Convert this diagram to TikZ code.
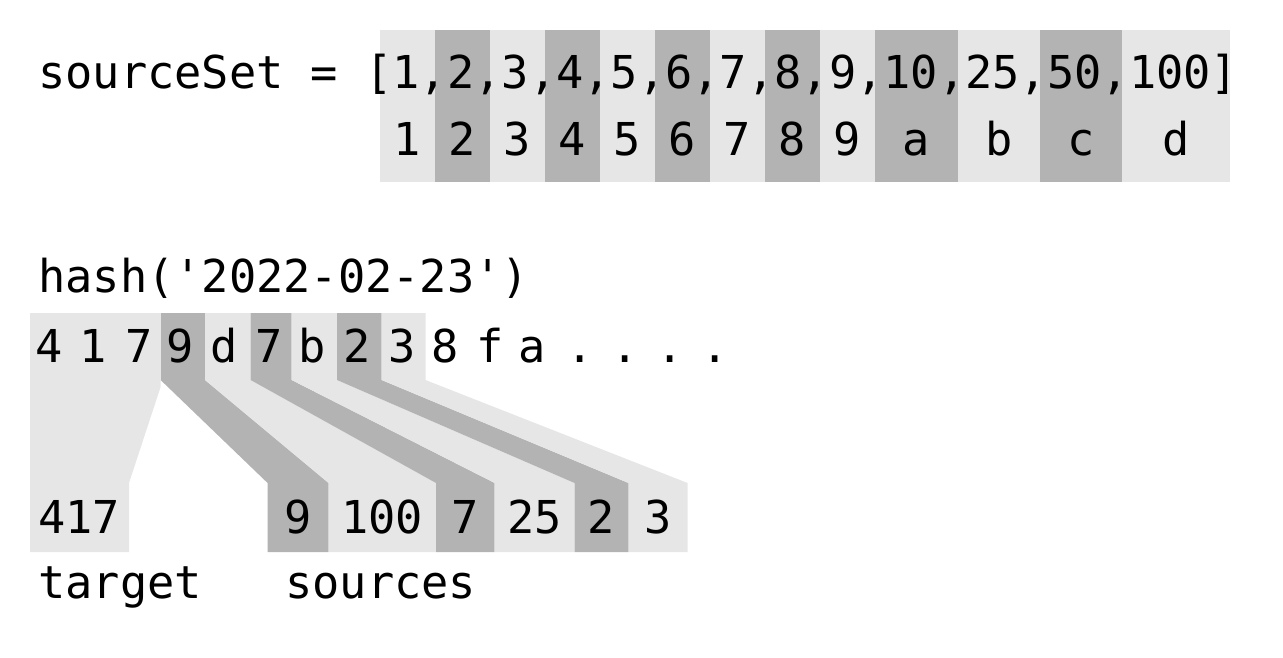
\documentclass[tikz,border=0pt]{standalone}
\usepackage{fontspec}
\setmonofont{DejaVu Sans Mono}
\definecolor{lg}{HTML}{E6E6E6}
\definecolor{dg}{HTML}{B3B3B3}
\begin{document}
\begin{tikzpicture}[x=1pt,y=-1pt,
  txt/.style={font=\ttfamily\fontsize{45.3}{50}\selectfont,inner sep=0pt,anchor=base west},
  ctr/.style={font=\ttfamily\fontsize{45.3}{50}\selectfont,inner sep=0pt,anchor=base}]
\useasboundingbox (0,0) rectangle (1283,657);
% top cells
\foreach \a/\b/\c/\l [count=\i] in {380/435/lg/1,435/490/dg/2,490/545/lg/3,545/600/dg/4,600/655/lg/5,655/710/dg/6,710/765/lg/7,765/820/dg/8,820/875/lg/9,875/958/dg/a,958/1040/lg/b,1040/1122/dg/c,1122/1230/lg/d}{
  \fill[\c] (\a,30) rectangle (\b,182);
  \node[ctr] (k\i) at ({(\a+\b)/2},155) {\l};
}
\node[txt] (src) at (38,88) {sourceSet = [1,2,3,4,5,6,7,8,9,10,25,50,100]};
% hash bands
\fill[lg] (30,313) -- (160.6,313) -- (160.6,387) -- (129,483) -- (129,552) -- (30,552) -- cycle;
\foreach \a/\b/\c/\d/\col in {160.6/205/267.6/328.6/dg,205/250.6/328.6/436/lg,250.6/291.6/436/494.7/dg,291.6/337/494.7/574.5/lg,337/381.6/574.5/628.5/dg,381.6/425.5/628.5/687.6/lg}{
  \fill[\col] (\a,313) -- (\b,313) -- (\b,380) -- (\d,483) -- (\d,552) -- (\c,552) -- (\c,483) -- (\a,380) -- cycle;
}
\fill[lg] (30,313) rectangle (160.6,380);
\node[txt] (hash) at (38,292) {hash('2022-02-23')};
\foreach \x/\l [count=\i] in {49/4,93/1,139/7,180/9,224/d,269/7,312/b,357/2,402/3,445/8,490/f,532/a,580/.,625/.,670/.,715/.}{
  \node[ctr] (h\i) at (\x,362) {\l};
}
\node[txt] (t417) at (38,533) {417};
\foreach \a/\b/\l [count=\i] in {267.6/328.6/9,328.6/436/100,436/494.7/7,494.7/574.5/25,574.5/628.5/2,628.5/687.6/3}{
  \node[ctr] (s\i) at ({(\a+\b)/2},533) {\l};
}
\node[txt] (tgt) at (38,598) {target};
\node[txt] (srcs) at (285,598) {sources};
\end{tikzpicture}
\end{document}
